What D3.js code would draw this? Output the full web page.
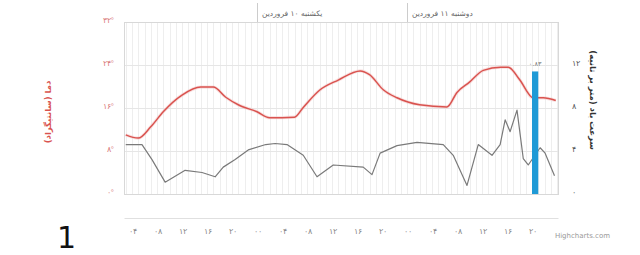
<!DOCTYPE html>
<html>
<head>
<meta charset="utf-8">
<script src="https://cdn.jsdelivr.net/npm/d3@7"></script>
<style>
  body { margin: 0; background: #fff; }
  svg { display: block; font-family: "DejaVu Sans", sans-serif; }
</style>
</head>
<body>
<div id="chart"></div>
<script>
// hours counted from 00:00 of the first day
const tempHours = [3, 5, 7, 9, 12, 15, 17, 19, 21, 24, 26, 30, 31.4, 34, 37, 40.5, 42, 44.2, 46.4, 50, 54.4, 56, 58, 60.2, 63, 64.2, 66, 68.2, 69.8, 71.8];
const tempValues = [11.0, 10.4, 12.5, 15.3, 18.4, 19.9, 19.9, 18.0, 16.6, 15.3, 14.2, 14.3, 16.1, 19.3, 21.2, 22.9, 22.2, 19.4, 17.9, 16.6, 16.2, 18.9, 20.8, 23.0, 23.6, 23.6, 21.3, 17.9, 17.9, 17.4];

const windHours = [3, 5.6, 7.2, 9.3, 12.5, 15.2, 17.3, 18.6, 20.5, 22.6, 25.4, 26.9, 28.8, 31.4, 33.6, 36.2, 41, 42.4, 43.7, 46.4, 49.6, 53.8, 55.4, 57.6, 59.4, 61.6, 62.9, 63.7, 64.5, 65.6, 66.6, 67.4, 69.3, 70.1, 71.6];
const windValues = [4.6, 4.6, 3.2, 1.1, 2.2, 2.0, 1.6, 2.5, 3.2, 4.1, 4.6, 4.7, 4.6, 3.6, 1.6, 2.7, 2.5, 1.8, 3.8, 4.5, 4.8, 4.6, 3.6, 0.8, 4.6, 3.6, 4.6, 6.9, 5.8, 7.8, 3.3, 2.7, 4.3, 3.8, 1.7];

const barHours = [68];
const barValues = [11.4];
const barLabels = ["۰.۸۳"];

const dayStarts = [24, 48];
const dayLabels = ["یکشنبه ۱۰ فروردین", "دوشنبه ۱۱ فروردین"];

const hourTicks = [4, 8, 12, 16, 20, 24, 28, 32, 36, 40, 44, 48, 52, 56, 60, 64, 68];
const tempTicks = [0, 8, 16, 24, 32];
const windTicks = [0, 4, 8, 12];

const faDigits = s => String(s).replace(/\d/g, d => "۰۱۲۳۴۵۶۷۸۹"[d]);

const width = 640;
const height = 255;
const plot = {left: 124, right: 558, top: 22, bottom: 194};

const svg = d3.select("#chart")
  .append("svg")
    .attr("width", width)
    .attr("height", height);

// scales
const xScale = d3.scaleLinear()
  .domain([2.72, 72.16])
  .range([plot.left, plot.right]);

const tempScale = d3.scaleLinear()
  .domain([0, 32])
  .range([plot.bottom, plot.top]);

const windScale = d3.scaleLinear()
  .domain([0, 16])
  .range([plot.bottom, plot.top]);

// hourly vertical grid
const hourGrid = d3.range(3, 73);
svg.append("g")
  .selectAll("line")
  .data(hourGrid)
  .join("line")
    .attr("x1", d => Math.round(xScale(d)) + 0.5)
    .attr("x2", d => Math.round(xScale(d)) + 0.5)
    .attr("y1", plot.top)
    .attr("y2", plot.bottom)
    .attr("stroke", "#eeeeee");

// horizontal grid
svg.append("g")
  .selectAll("line")
  .data(tempTicks)
  .join("line")
    .attr("x1", plot.left)
    .attr("x2", plot.right)
    .attr("y1", d => Math.round(tempScale(d)) + 0.5)
    .attr("y2", d => Math.round(tempScale(d)) + 0.5)
    .attr("stroke", "#e6e6e6");

// plot border
svg.append("rect")
  .attr("x", plot.left + 0.5)
  .attr("y", plot.top + 0.5)
  .attr("width", plot.right - plot.left)
  .attr("height", plot.bottom - plot.top)
  .attr("fill", "none")
  .attr("stroke", "#d8d8d8");

// top day header
svg.append("g")
  .selectAll("line")
  .data(dayStarts)
  .join("line")
    .attr("x1", d => Math.round(xScale(d)) + 0.5)
    .attr("x2", d => Math.round(xScale(d)) + 0.5)
    .attr("y1", 3)
    .attr("y2", plot.top)
    .attr("stroke", "#cccccc");

svg.append("g")
  .selectAll("text")
  .data(dayStarts)
  .join("text")
    .attr("x", d => xScale(d) + 5)
    .attr("y", 16)
    .attr("text-anchor", "end")
    .attr("direction", "rtl")
    .attr("font-size", 7.5)
    .attr("fill", "#666")
    .text((d, i) => dayLabels[i]);

// wind line
const windLine = d3.line()
  .x((d, i) => xScale(windHours[i]))
  .y(d => windScale(d));

svg.append("path")
  .datum(windValues)
  .attr("d", windLine)
  .attr("fill", "none")
  .attr("stroke", "#7a7a7a")
  .attr("stroke-width", 1.2)
  .attr("stroke-linejoin", "round");

// temperature line
const tempLine = d3.line()
  .x((d, i) => xScale(tempHours[i]))
  .y(d => tempScale(d))
  .curve(d3.curveMonotoneX);

svg.append("path")
  .datum(tempValues)
  .attr("d", tempLine)
  .attr("fill", "none")
  .attr("stroke", "#f4c4c4")
  .attr("stroke-width", 3.2)
  .attr("stroke-opacity", 0.5);

svg.append("path")
  .datum(tempValues)
  .attr("d", tempLine)
  .attr("fill", "none")
  .attr("stroke", "#d9534f")
  .attr("stroke-width", 1.5);

// blue column
svg.append("g")
  .selectAll("rect")
  .data(barHours)
  .join("rect")
    .attr("x", d => xScale(d))
    .attr("y", (d, i) => windScale(barValues[i]))
    .attr("width", d => xScale(d + 1) - xScale(d))
    .attr("height", (d, i) => windScale(0) - windScale(barValues[i]))
    .attr("fill", "#1f9ad6");

svg.append("g")
  .selectAll("text")
  .data(barHours)
  .join("text")
    .attr("x", d => xScale(d + 0.5))
    .attr("y", (d, i) => windScale(barValues[i]) - 5)
    .attr("text-anchor", "middle")
    .attr("font-size", 6.5)
    .attr("fill", "#777")
    .text((d, i) => barLabels[i]);

// left axis
const leftAxis = d3.axisLeft(tempScale)
  .tickValues(tempTicks)
  .tickSize(0)
  .tickPadding(10)
  .tickFormat(d => faDigits(d) + "°");
const leftG = svg.append("g")
  .attr("transform", `translate(${plot.left}, 0)`)
  .call(leftAxis);
leftG.select(".domain").remove();
leftG.selectAll("text")
  .attr("font-size", 8)
  .attr("fill", "#d97a7a")
  .attr("dy", "0.1em");

svg.append("text")
  .attr("transform", `translate(51, 112) rotate(-90)`)
  .attr("text-anchor", "middle")
  .attr("font-size", 8.5)
  .attr("font-weight", "bold")
  .attr("fill", "#d9534f")
  .text("دما (سانتیگراد)");

// right axis
const rightAxis = d3.axisRight(windScale)
  .tickValues(windTicks)
  .tickSize(0)
  .tickPadding(14)
  .tickFormat(d => faDigits(d));
const rightG = svg.append("g")
  .attr("transform", `translate(${plot.right}, 0)`)
  .call(rightAxis);
rightG.select(".domain").remove();
rightG.selectAll("text")
  .attr("font-size", 8)
  .attr("fill", "#555")
  .attr("dy", "0.1em");

svg.append("text")
  .attr("transform", `translate(590, 100) rotate(90)`)
  .attr("text-anchor", "middle")
  .attr("font-size", 8.5)
  .attr("font-weight", "bold")
  .attr("fill", "#333")
  .text("سرعت باد (متر بر ثانیه)");

// bottom axis, offset below the plot
const bottomAxis = d3.axisBottom(xScale)
  .tickValues(hourTicks)
  .tickSize(0)
  .tickPadding(11)
  .tickFormat(d => faDigits(String(d % 24).padStart(2, "0")));
const bottomG = svg.append("g")
  .attr("transform", `translate(0, 218)`)
  .call(bottomAxis);
bottomG.select(".domain")
  .attr("stroke", "#e0e0e0");
bottomG.selectAll("text")
  .attr("font-size", 7.5)
  .attr("fill", "#888");

// credits
svg.append("text")
  .attr("x", 610)
  .attr("y", 238)
  .attr("text-anchor", "end")
  .attr("font-size", 7)
  .attr("fill", "#999")
  .text("Highcharts.com");

// page marker
svg.append("text")
  .attr("x", 57)
  .attr("y", 248)
  .attr("font-size", 30)
  .attr("fill", "#111")
  .text("1");
</script>
</body>
</html>
